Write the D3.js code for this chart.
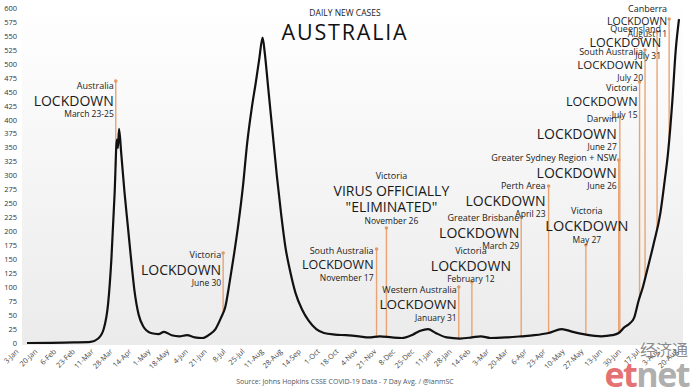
<!DOCTYPE html>
<html>
<head>
<meta charset="utf-8">
<script src="https://cdn.jsdelivr.net/npm/d3@7"></script>
<style>
  body { margin: 0; background: #fff; }
  svg { display: block; font-family: "Open Sans", sans-serif; }
</style>
</head>
<body>
<svg id="chart" width="690" height="389"></svg>
<script>
// 7 day average of daily new cases
var dates = ["2020-01-03","2020-01-25","2020-02-15","2020-03-01","2020-03-08","2020-03-13","2020-03-17","2020-03-20",
  "2020-03-23","2020-03-25","2020-03-26","2020-03-27","2020-03-29","2020-04-01","2020-04-04","2020-04-07","2020-04-10",
  "2020-04-14","2020-04-18","2020-04-25","2020-05-02","2020-05-07","2020-05-14","2020-05-21","2020-05-28","2020-06-04",
  "2020-06-11","2020-06-18","2020-06-23","2020-06-28","2020-07-02","2020-07-06","2020-07-10","2020-07-14","2020-07-18",
  "2020-07-22","2020-07-26","2020-07-30","2020-08-02","2020-08-05","2020-08-07","2020-08-10","2020-08-14","2020-08-18",
  "2020-08-22","2020-08-26","2020-08-30","2020-09-04","2020-09-10","2020-09-16","2020-09-23","2020-09-30","2020-10-10",
  "2020-10-20","2020-11-01","2020-11-10","2020-11-20","2020-12-01","2020-12-10","2020-12-20","2020-12-27","2021-01-03",
  "2021-01-10","2021-01-20","2021-02-01","2021-02-12","2021-02-20","2021-03-01","2021-03-15","2021-03-29","2021-04-10",
  "2021-04-23","2021-05-05","2021-05-15","2021-05-27","2021-06-10","2021-06-20","2021-06-26","2021-07-01","2021-07-06",
  "2021-07-10","2021-07-14","2021-07-18","2021-07-22","2021-07-28","2021-08-03","2021-08-07","2021-08-10","2021-08-14",
  "2021-08-17","2021-08-20"];
var cases = [0, 0.3, 1, 2, 8, 25, 70, 150,
  270, 365, 350, 384, 340, 270, 210, 150, 95,
  50, 30, 18, 16, 20, 14, 12, 14, 10,
  9, 16, 25, 45, 65, 110, 160, 215, 280,
  360, 420, 470, 510, 548, 520, 460, 380, 300,
  230, 170, 130, 90, 60, 40, 25, 18, 15,
  14, 12, 10, 12, 10, 9, 15, 22, 25,
  18, 10, 8, 10, 12, 9, 10, 12, 14,
  18, 25, 20, 15, 12, 14, 18, 28, 35,
  45, 75, 100, 131, 179, 233, 292, 341, 436,
  525, 581];

var tickDates = ["2020-01-03","2020-01-20","2020-02-06","2020-02-23","2020-03-11","2020-03-28","2020-04-14","2020-05-01",
  "2020-05-18","2020-06-04","2020-06-21","2020-07-08","2020-07-25","2020-08-11","2020-08-28","2020-09-14","2020-10-01",
  "2020-10-18","2020-11-04","2020-11-21","2020-12-08","2020-12-25","2021-01-11","2021-01-28","2021-02-14","2021-03-03",
  "2021-03-20","2021-04-06","2021-04-23","2021-05-10","2021-05-27","2021-06-13","2021-06-30","2021-07-17","2021-08-03",
  "2021-08-20"];
var yTicks = d3.range(0, 601, 25);

// lockdown annotations
var annoDates = ["2020-03-24","2020-06-30","2020-11-17","2020-11-26","2021-01-31","2021-02-12","2021-03-29","2021-04-23",
  "2021-05-27","2021-06-26","2021-06-27","2021-07-15","2021-07-20","2021-07-31","2021-08-11"];
var annoRegion = ["Australia","Victoria","South Australia","Victoria","Western Australia","Victoria","Greater Brisbane",
  "Perth Area","Victoria","Greater Sydney Region + NSW","Darwin","Victoria","South Australia","Queensland","Canberra"];
var annoHead = [["LOCKDOWN"],["LOCKDOWN"],["LOCKDOWN"],["VIRUS OFFICIALLY","\"ELIMINATED\""],["LOCKDOWN"],["LOCKDOWN"],
  ["LOCKDOWN"],["LOCKDOWN"],["LOCKDOWN"],["LOCKDOWN"],["LOCKDOWN"],["LOCKDOWN"],["LOCKDOWN"],["LOCKDOWN"],["LOCKDOWN"]];
var annoWhen = ["March 23-25","June 30","November 17","November 26","January 31","February 12","March 29","April 23",
  "May 27","June 26","June 27","July 15","July 20","July 31","August 11"];

// label placement: pin top (px), text x relative to pin, anchor, baseline of first line, head font size
var annoLayout = [
  {top: 81,  dx: -2, anchor: "end",    y: 89,  fs: 14},
  {top: 253, dx: -2, anchor: "end",    y: 258, fs: 14},
  {top: 249, dx: -3, anchor: "end",    y: 254, fs: 12.5},
  {top: 228, dx: 5,  anchor: "middle", y: 179, fs: 14},
  {top: 287, dx: -2, anchor: "end",    y: 293, fs: 13.5},
  {top: 282, dx: -1, anchor: "middle", y: 254, fs: 14},
  {top: 217, dx: -2, anchor: "end",    y: 221, fs: 14},
  {top: 186, dx: -3, anchor: "end",    y: 189, fs: 14},
  {top: 245, dx: 1,  anchor: "middle", y: 214, fs: 14.5},
  {top: 160, dx: -2, anchor: "end",    y: 161, fs: 14},
  {top: 117, dx: -3, anchor: "end",    y: 122, fs: 14},
  {top: 82,  dx: -2, anchor: "end",    y: 91,  fs: 12.5},
  {top: 50,  dx: -2, anchor: "end",    y: 55,  fs: 11.5},
  {top: 32,  dx: 4,  anchor: "end",    y: 32,  fs: 12.5},
  {top: 19,  dx: -2, anchor: "end",    y: 12,  fs: 10.5}
];

var parseDate = d3.timeParse("%Y-%m-%d"),
    fmtTick = d3.timeFormat("%-d-%b");

var data = dates.map(function (d, i) { return {date: parseDate(d), value: cases[i]}; });

var svg = d3.select("#chart");

var x = d3.scaleTime()
    .domain([parseDate("2020-01-03"), parseDate("2021-08-20")])
    .range([27, 679]);
var y = d3.scaleLinear().domain([0, 600]).range([343, 8.5]);

// plot background
var grad = svg.append("defs").append("linearGradient")
    .attr("id", "bg").attr("x1", 0).attr("y1", 0).attr("x2", 0).attr("y2", 1);
grad.append("stop").attr("offset", "0%").attr("stop-color", "#ffffff");
grad.append("stop").attr("offset", "100%").attr("stop-color", "#ebebeb");

svg.append("rect")
    .attr("x", 22).attr("y", 3)
    .attr("width", 661).attr("height", 342)
    .attr("fill", "url(#bg)");

// y axis labels
svg.append("g").selectAll("text")
    .data(yTicks)
    .enter().append("text")
    .attr("x", 17)
    .attr("y", function (d) { return y(d) + 2.5; })
    .attr("text-anchor", "end")
    .attr("font-size", 7.5)
    .attr("fill", "#333")
    .text(function (d) { return d; });

// x axis labels
svg.append("g").selectAll("text")
    .data(tickDates.map(parseDate))
    .enter().append("text")
    .attr("transform", function (d, i) {
      return "translate(" + (x(d) - 8 + i * 0.2) + ",352) rotate(-45)";
    })
    .attr("text-anchor", "end")
    .attr("font-size", 7.3)
    .attr("fill", "#444")
    .text(function (d) { return fmtTick(d); });

// the curve
var line = d3.line()
    .curve(d3.curveMonotoneX)
    .x(function (d) { return x(d.date); })
    .y(function (d) { return y(d.value); });

var bisect = d3.bisector(function (d) { return d.date; }).left;
function valueAt(dt) {
  var i = bisect(data, dt);
  if (i <= 0) return data[0].value;
  if (i >= data.length) return data[data.length - 1].value;
  var a = data[i - 1], b = data[i];
  var t = (dt - a.date) / (b.date - a.date);
  return a.value + t * (b.value - a.value);
}

// annotation pins
var anno = svg.append("g");
annoDates.forEach(function (ds, i) {
  var dt = parseDate(ds), L = annoLayout[i], px = x(dt);
  anno.append("line")
      .attr("x1", px).attr("x2", px)
      .attr("y1", L.top).attr("y2", y(valueAt(dt)))
      .attr("stroke", "#e9a472").attr("stroke-width", 1.4);
  anno.append("circle")
      .attr("cx", px).attr("cy", L.top).attr("r", 1.8)
      .attr("fill", "#e29a66");
});

svg.append("path")
    .datum(data)
    .attr("fill", "none")
    .attr("stroke", "#111")
    .attr("stroke-width", 2.2)
    .attr("stroke-linejoin", "round")
    .attr("d", line);

// annotation texts
annoDates.forEach(function (ds, i) {
  var dt = parseDate(ds), L = annoLayout[i], tx = x(dt) + L.dx;
  var g = anno.append("g").attr("text-anchor", L.anchor).attr("fill", "#1a1a1a");
  var yy = L.y;
  g.append("text").attr("x", tx).attr("y", yy).attr("font-size", 9).text(annoRegion[i]);
  annoHead[i].forEach(function (h) {
    yy += L.fs + 2.5;
    g.append("text").attr("x", tx).attr("y", yy).attr("font-size", L.fs).text(h);
  });
  g.append("text").attr("x", tx).attr("y", yy + 11.5).attr("font-size", 8.5).text(annoWhen[i]);
});

// titles
svg.append("text")
    .attr("x", 345).attr("y", 16)
    .attr("text-anchor", "middle")
    .attr("font-size", 8.5)
    .attr("fill", "#222")
    .text("DAILY NEW CASES");
svg.append("text")
    .attr("x", 345).attr("y", 40)
    .attr("text-anchor", "middle")
    .attr("font-size", 21.5)
    .attr("letter-spacing", 1.8)
    .attr("fill", "#111")
    .text("AUSTRALIA");

svg.append("text")
    .attr("x", 345).attr("y", 384)
    .attr("text-anchor", "middle")
    .attr("font-size", 7)
    .attr("fill", "#555")
    .text("Source: Johns Hopkins CSSE COVID-19 Data - 7 Day Avg. / @ianmSC");

// watermark
svg.append("text")
    .attr("x", 688).attr("y", 356)
    .attr("text-anchor", "end")
    .attr("font-family", "Noto Sans CJK SC")
    .attr("font-size", 16)
    .attr("fill", "#777")
    .attr("fill-opacity", 0.85)
    .text("经济通");
var wm = svg.append("text")
    .attr("x", 689).attr("y", 387)
    .attr("text-anchor", "end")
    .attr("font-size", 34)
    .attr("font-weight", "bold")
    .attr("letter-spacing", -1.5);
wm.append("tspan").attr("fill", "#e0585a").attr("fill-opacity", 0.85).text("et");
wm.append("tspan").attr("fill", "#999").attr("fill-opacity", 0.8).text("net");
</script>
</body>
</html>
